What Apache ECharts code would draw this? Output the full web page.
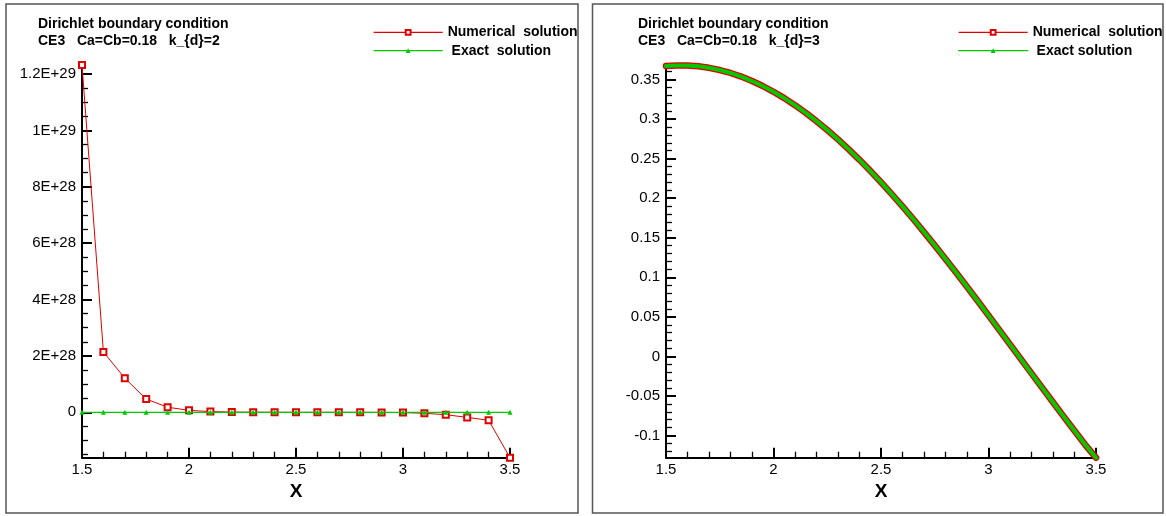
<!DOCTYPE html>
<html>
<head>
<meta charset="utf-8">
<script src="https://cdn.jsdelivr.net/npm/echarts@6/dist/echarts.min.js"></script>
<style>
html,body{margin:0;padding:0;background:#fff;}
#chart{width:1166px;height:516px;}
</style>
</head>
<body>
<div id="chart"></div>
<script>
// ---------- data ----------
const titleLeft = 'Dirichlet boundary condition\nCE3   Ca=Cb=0.18   k_{d}=2';
const titleRight = 'Dirichlet boundary condition\nCE3   Ca=Cb=0.18   k_{d}=3';
const nameNum = 'Numerical  solution';
const nameExactLeft = ' Exact  solution';
const nameExactRight = ' Exact solution';

const xLeft = [1.5,1.6,1.7,1.8,1.9,2.0,2.1,2.2,2.3,2.4,2.5,2.6,2.7,2.8,2.9,3.0,3.1,3.2,3.3,3.4,3.5];
const numericalLeft = [1.232e29,2.14e28,1.21e28,4.7e27,1.8e27,7e26,2.5e26,8e25,3e25,1e25,0,0,0,-1e25,-3e25,-1e26,-3.5e26,-8.5e26,-1.8e27,-2.8e27,-1.61e28];
const exactLeft = [0,0,0,0,0,0,0,0,0,0,0,0,0,0,0,0,0,0,0,0,0];

const xRight = [1.5,1.55,1.6,1.65,1.7,1.75,1.8,1.85,1.9,1.95,2.0,2.05,2.1,2.15,2.2,2.25,2.3,2.35,2.4,2.45,2.5,2.55,2.6,2.65,2.7,2.75,2.8,2.85,2.9,2.95,3.0,3.05,3.1,3.15,3.2,3.25,3.3,3.35,3.4,3.45,3.5];
const numericalRight = [0.3670,0.3678,0.3677,0.3667,0.3648,0.3620,0.3583,0.3537,0.3481,0.3418,0.3345,0.3265,0.3176,0.3079,0.2974,0.2862,0.2743,0.2617,0.2485,0.2346,0.2202,0.2052,0.1897,0.1737,0.1572,0.1404,0.1232,0.1058,0.0880,0.0701,0.0519,0.0336,0.0153,-0.0031,-0.0215,-0.0398,-0.0580,-0.0761,-0.0940,-0.1117,-0.1280];
const exactRight = [0.3670,0.3678,0.3677,0.3667,0.3648,0.3620,0.3583,0.3537,0.3481,0.3418,0.3345,0.3265,0.3176,0.3079,0.2974,0.2862,0.2743,0.2617,0.2485,0.2346,0.2202,0.2052,0.1897,0.1737,0.1572,0.1404,0.1232,0.1058,0.0880,0.0701,0.0519,0.0336,0.0153,-0.0031,-0.0215,-0.0398,-0.0580,-0.0761,-0.0940,-0.1117,-0.1280];

const yMajorLeft = [0,2e28,4e28,6e28,8e28,1e29,1.2e29];
const yMinorLeft = [-1.5e28,-1e28,-5e27,5e27,1e28,1.5e28,2.5e28,3e28,3.5e28,4.5e28,5e28,5.5e28,6.5e28,7e28,7.5e28,8.5e28,9e28,9.5e28,1.05e29,1.1e29,1.15e29];
const yMajorRight = [-0.1,-0.05,0,0.05,0.1,0.15,0.2,0.25,0.3,0.35];
const yMinorRight = [-0.12,-0.11,-0.09,-0.08,-0.07,-0.06,-0.04,-0.03,-0.02,-0.01,0.01,0.02,0.03,0.04,0.06,0.07,0.08,0.09,0.11,0.12,0.13,0.14,0.16,0.17,0.18,0.19,0.21,0.22,0.23,0.24,0.26,0.27,0.28,0.29,0.31,0.32,0.33,0.34,0.36];

// ---------- styling ----------
const FONT = '"Liberation Sans", Arial, Helvetica, sans-serif';
const RED = '#e00000';
const GREEN = '#00c800';
const BLACK = '#000';

function zip(xs, ys){ return xs.map((x,i)=>[x, ys[i]]); }

function xAxisCfg(gridIndex){
  return {
    type:'value', gridIndex, min:1.5, max:3.5, interval:0.5,
    axisLine:{show:true, onZero:false, lineStyle:{color:BLACK, width:2}},
    axisTick:{show:true, inside:true, length:10, lineStyle:{color:BLACK, width:2}},
    minorTick:{show:true, splitNumber:5, length:6, lineStyle:{color:BLACK, width:1.3}},
    axisLabel:{color:BLACK, fontSize:15, fontFamily:FONT, margin:5},
    splitLine:{show:false}, minorSplitLine:{show:false},
    name:'X', nameLocation:'middle', nameGap:15,
    nameTextStyle:{color:BLACK, fontSize:19, fontWeight:'bold', fontFamily:FONT}
  };
}
function yMajorCfg(gridIndex, min, max, ticks, fmt){
  return {
    type:'value', gridIndex, min, max, position:'left',
    axisLine:{show:true, onZero:false, lineStyle:{color:BLACK, width:2}},
    axisTick:{show:true, inside:true, length:10, lineStyle:{color:BLACK, width:2}, customValues:ticks},
    axisLabel:{show:true, color:BLACK, fontSize:15, fontFamily:FONT, margin:6, customValues:ticks, formatter:fmt},
    splitLine:{show:false}
  };
}
function yMinorCfg(gridIndex, min, max, ticks){
  return {
    type:'value', gridIndex, min, max, position:'left',
    axisLine:{show:false, onZero:false},
    axisTick:{show:true, inside:true, length:6, lineStyle:{color:BLACK, width:1.3}, customValues:ticks},
    axisLabel:{show:false},
    splitLine:{show:false}
  };
}
const fmtLeft = v => v === 0 ? '0' : Number(v).toExponential().toUpperCase();
const fmtRight = v => String(+Number(v).toFixed(4));

const titleStyle = {color:BLACK, fontSize:14, fontWeight:'bold', fontFamily:FONT, lineHeight:17.3};
const legendBase = {
  orient:'vertical', padding:0, itemWidth:69, itemHeight:6, itemGap:0.4,
  selectedMode:false,
  textStyle:{color:BLACK, fontSize:14, fontWeight:'bold', fontFamily:FONT, lineHeight:18},
  lineStyle:{width:1.3}
};

const chart = echarts.init(document.getElementById('chart'), null, {renderer:'canvas'});
chart.setOption({
  backgroundColor:'#fff',
  animation:false,
  title:[
    {text:titleLeft, left:38, top:15, padding:0, textStyle:titleStyle},
    {text:titleRight, left:638, top:15, padding:0, textStyle:titleStyle}
  ],
  legend:[
    Object.assign({}, legendBase, {left:373, top:23.3, data:[nameNum, nameExactLeft]}),
    Object.assign({}, legendBase, {left:958, top:23.3, data:[nameNum, nameExactRight]})
  ],
  grid:[
    {left:82, right:656, top:65, bottom:58.3, containLabel:false},
    {left:666, right:70, top:63.7, bottom:58.3, containLabel:false}
  ],
  xAxis:[xAxisCfg(0), xAxisCfg(1)],
  yAxis:[
    yMajorCfg(0, -1.61e28, 1.232e29, yMajorLeft, fmtLeft),
    yMinorCfg(0, -1.61e28, 1.232e29, yMinorLeft),
    yMajorCfg(1, -0.128, 0.37, yMajorRight, fmtRight),
    yMinorCfg(1, -0.128, 0.37, yMinorRight)
  ],
  graphic:[
    {type:'rect', silent:true, shape:{x:6, y:4, width:572, height:509}, style:{fill:'none', stroke:'#555', lineWidth:1.5}},
    {type:'rect', silent:true, shape:{x:592.5, y:4, width:570.5, height:509}, style:{fill:'none', stroke:'#555', lineWidth:1.5}}
  ],
  series:[
    {name:nameNum, type:'line', xAxisIndex:0, yAxisIndex:0, data:zip(xLeft, numericalLeft),
     symbol:'emptyRect', symbolSize:6, showSymbol:true, clip:false,
     lineStyle:{color:RED, width:1}, itemStyle:{color:RED, borderColor:RED, borderWidth:1}, z:2},
    {name:nameExactLeft, type:'line', xAxisIndex:0, yAxisIndex:0, data:zip(xLeft, exactLeft),
     symbol:'triangle', symbolSize:5, showSymbol:true, clip:false,
     lineStyle:{color:GREEN, width:1.3}, itemStyle:{color:GREEN}, z:3},
    {name:nameNum, type:'line', xAxisIndex:1, yAxisIndex:2, data:zip(xRight, numericalRight),
     symbol:'emptyRect', symbolSize:6, showSymbol:false, clip:false,
     lineStyle:{color:RED, width:6.5, join:'round', cap:'round'}, itemStyle:{color:RED}, z:2},
    {name:nameExactRight, type:'line', xAxisIndex:1, yAxisIndex:2, data:zip(xRight, exactRight),
     symbol:'triangle', symbolSize:5, showSymbol:false, clip:false,
     lineStyle:{color:GREEN, width:4, join:'round', cap:'round'}, itemStyle:{color:GREEN}, z:3}
  ]
});
</script>
</body>
</html>
